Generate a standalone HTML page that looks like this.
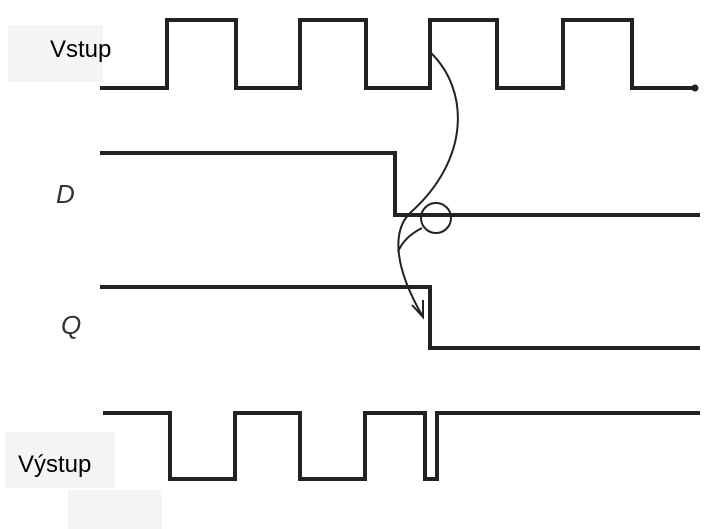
<!DOCTYPE html>
<html><head><meta charset="utf-8"><style>
body{margin:0;background:#fff;width:724px;height:529px;overflow:hidden;position:relative;font-family:"Liberation Sans",sans-serif}
.box{position:absolute;background:#f5f5f5}
.t{position:absolute;font-size:24px;color:#000;line-height:1}
</style></head><body>
<div class="box" style="left:8px;top:25px;width:95px;height:57px"></div>
<div class="box" style="left:5px;top:432px;width:110px;height:56px"></div>
<div class="box" style="left:68px;top:490px;width:94px;height:39px"></div>
<div class="t" style="left:50px;top:38px">Vstup</div>
<div class="t" style="left:18px;top:453px">Výstup</div>
<svg width="724" height="529" style="position:absolute;left:0;top:0" fill="none" stroke="#222" stroke-linejoin="miter">
<g stroke-width="4">
<polyline points="100,88 167,88 167,20 236,20 236,88 300,88 300,20 366,20 366,88 430,88 430,20 497,20 497,88 563,88 563,20 632,20 632,88 695,88"/>
<polyline points="100,153 395,153 395,215 700,215"/>
<polyline points="100,287 430,287 430,348 700,348"/>
<polyline points="103,413 170,413 170,479 235,479 235,413 300,413 300,479 365,479 365,413 425,413 425,479 437,479 437,413 700,413"/>
</g>
<circle cx="695" cy="88" r="3" fill="#222"/>
<g stroke-width="2">
<path d="M430,52 C470,90 470,160 410,213 C395,228 390,260 423,317"/>
<path d="M422,228 C410,234 402,242 398,252"/>
<circle cx="436" cy="218" r="15"/>
<path d="M412,305 L423,317 L423,300"/>
</g>
<text x="56" y="203" font-family="Liberation Sans" font-style="italic" font-size="26" fill="#333" stroke="none">D</text>
<text x="61" y="334" font-family="Liberation Sans" font-style="italic" font-size="26" fill="#333" stroke="none">Q</text>
</svg>
</body></html>
